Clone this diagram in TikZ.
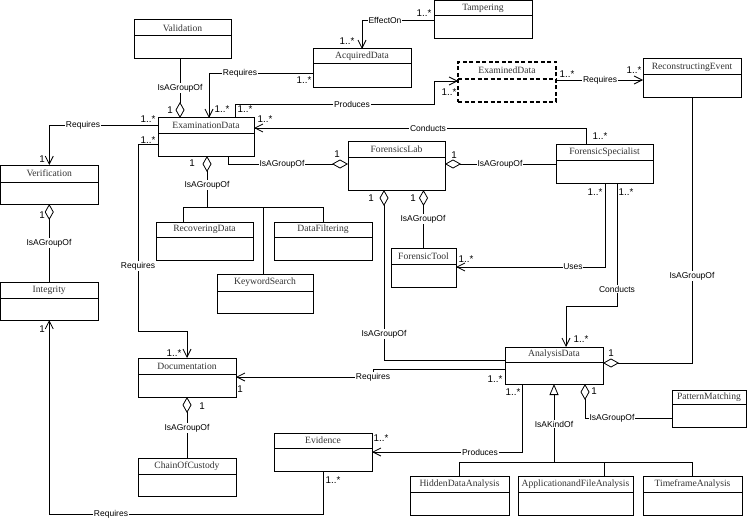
\documentclass[tikz,border=0pt]{standalone}
\usepackage{fontspec}
\setmainfont{Liberation Serif}
\setsansfont{Liberation Sans}
\usetikzlibrary{arrows.meta,calc}

\tikzset{
 clsbox/.style={draw, line width=1pt, inner sep=0pt, outer sep=0pt, fill=white},
 clsdiv/.style={line width=1pt},
 dashbox/.style={line width=2pt, dash pattern=on 4pt off 2.5pt},
 clstitle/.style={font=\fontsize{9.6}{11}\selectfont, inner sep=0pt, text=black!80},
 conn/.style={line width=0.8pt},
 assoc/.style={conn, -{Straight Barb[length=8pt,width=8pt,line width=0.8pt]}},
 agg/.style={conn, {Diamond[open,length=16pt,width=9pt,line width=0.8pt]}-},
 aggend/.style={conn, -{Diamond[open,length=16pt,width=9pt,line width=0.8pt]}},
 gen/.style={conn, {Triangle[open,length=11pt,width=9pt,line width=0.8pt]}-},
 lbl/.style={font=\sffamily\fontsize{8.5}{10}\selectfont, fill=white, inner sep=0.8pt},
 mult/.style={font=\sffamily\fontsize{9.8}{11}\selectfont, inner sep=0pt},
}

\newcommand\umlcls[8][]{%
  \node[clsbox,#1,anchor=north west,minimum width={(#5-#3)*1pt},minimum height={(#6-#4)*1pt}] (#2) at (#3,#4) {};
  \draw[clsdiv,#1] (#3,#7) -- (#5,#7);
  \node[clstitle] (#2-t) at ({(#3+#5)/2},{(#4+#7)/2}) {#8};
}

\begin{document}
\begin{tikzpicture}[x=1pt,y=-1pt]
\path[use as bounding box, fill=white] (0,0) rectangle (749,524);

% classes
\umlcls{val}{134}{20}{231}{59}{36}{Validation}
\umlcls{exam}{158}{118}{254}{156}{133.5}{ExaminationData}
\umlcls{acq}{313}{49}{411}{88}{64}{AcquiredData}
\umlcls{tamp}{434}{1}{532}{39}{16}{Tampering}
\umlcls[dashbox]{exmd}{458}{62}{556}{102}{79}{ExaminedData}
\umlcls{rec}{643}{59}{741}{98}{75}{ReconstructingEvent}
\umlcls{verif}{0.5}{165}{98}{204}{182}{Verification}
\umlcls{integ}{0.5}{282}{98}{320}{298}{Integrity}
\umlcls{lab}{348}{141}{445}{190}{157}{ForensicsLab}
\umlcls{spec}{556}{144}{653}{183}{160}{ForensicSpecialist}
\umlcls{recov}{156}{222}{253}{260}{237}{RecoveringData}
\umlcls{filt}{274}{222}{372}{260}{237}{DataFiltering}
\umlcls{kw}{217}{274}{313}{313}{291}{KeywordSearch}
\umlcls{tool}{391}{248}{456}{287}{264}{ForensicTool}
\umlcls{ana}{505}{347}{603}{384}{362}{AnalysisData}
\umlcls{doc}{138}{358}{236}{397}{374}{Documentation}
\umlcls{coc}{138}{458}{236}{496}{474}{ChainOfCustody}
\umlcls{evid}{274}{433}{372}{471}{448}{Evidence}
\umlcls{pat}{672}{390}{746}{427}{404}{PatternMatching}
\umlcls{hid}{410}{476}{509}{515}{492}{HiddenDataAnalysis}
\umlcls{app}{518}{476}{633}{515}{492}{ApplicationandFileAnalysis}
\umlcls{time}{643}{476}{742}{515}{492}{TimeframeAnalysis}

% connectors
\draw[aggend] ($(val.south west)+(46,0)$) -- ($(exam.north west)+(22,0)$);
\draw[assoc] ($(acq.north west)+(0,24)$) -| ($(exam.north west)+(51,0)$);
\draw[assoc] ($(tamp.north west)+(0,19)$) -| ($(acq.north west)+(49,0)$);
\draw[assoc] ($(exam.north west)+(77,0)$) |- ($(exmd.north west)+(-24,42)$) |- ($(exmd.north west)+(0,19)$);
\draw[assoc] ($(exmd.north east)+(0,18)$) -- ($(rec.north west)+(0,21)$);
\draw[assoc] ($(spec.north west)+(30,0)$) |- ($(exam.north east)+(0,10)$);
\draw[aggend] ($(exam.south west)+(70,0)$) |- ($(lab.north west)+(0,23)$);
\draw[aggend] ($(spec.north west)+(0,20)$) -- ($(lab.north east)+(0,23)$);
\draw[assoc] ($(exam.north west)+(0,7)$) -| (verif.north);
\draw[assoc] ($(exam.north west)+(0,26)$) -| ($(doc.north west)+(0,-27)$) -| (doc.north);
\coordinate (br1) at (207,207);
\draw[agg] ($(exam.south west)+(49,0)$) -- (br1);
\draw[conn] ($(recov.north west)+(27,0)$) |- ($(filt.north west)+(49,-15)$) -- ($(filt.north west)+(49,0)$);
\draw[conn] ($(kw.north west)+(46,0)$) -- ($(kw.north west)+(46,-67)$);
\draw[agg] (verif.south) -- (integ.north);
\draw[agg] (tool.north |- lab.south) -- (tool.north);
\draw[agg] ($(lab.south west)+(36,0)$) |- ($(ana.north west)+(0,13)$);
\draw[assoc] ($(spec.south west)+(49,0)$) |- ($(tool.north east)+(0,19)$);
\draw[assoc] ($(spec.south west)+(61,0)$) -- ($(spec.south west)+(61,123)$) -| ($(ana.north west)+(61,0)$);
\draw[aggend] ($(rec.south west)+(49,0)$) |- ($(ana.north east)+(0,16)$);
\draw[assoc] ($(ana.north west)+(0,22)$) -| ($(doc.north east)+(137,19)$) -- ($(doc.north east)+(0,19)$);
\draw[assoc] ($(ana.south west)+(17,0)$) |- ($(evid.north east)+(0,19)$);
\coordinate (br2) at (554,462);
\draw[gen] ($(ana.south west)+(49,0)$) -- (br2);
\draw[conn] (hid.north) |- ($(time.north)+(0,-14)$) -- (time.north);
\draw[conn] ($(app.north west)+(86,0)$) -- ($(app.north west)+(86,-14)$);
\draw[agg] ($(ana.south west)+(80,0)$) |- ($(pat.north west)+(0,28)$);
\draw[assoc] ($(evid.south west)+(49,0)$) -- ($(evid.south west)+(49,43)$) -| (integ.south);
\draw[agg] (doc.south) -- (coc.north);

% connector labels
\node[lbl] (l1) at (180,88) {IsAGroupOf};
\node[lbl] (l2) at (240,73) {Requires};
\node[lbl] (l3) at (385,20) {EffectOn};
\node[lbl] (l4) at (352,104) {Produces};
\node[lbl] (l5) at (600,80) {Requires};
\node[lbl] (l6) at (428,128) {Conducts};
\node[lbl] (l7) at (282,164) {IsAGroupOf};
\node[lbl] (l8) at (500,164) {IsAGroupOf};
\node[lbl] (l9) at (83,125) {Requires};
\node[lbl] (l10) at (138,266) {Requires};
\node[lbl] (l11) at (207,185) {IsAGroupOf};
\node[lbl] (l12) at (49,243) {IsAGroupOf};
\node[lbl] (l13) at (423,219) {IsAGroupOf};
\node[lbl] (l14) at (384,334) {IsAGroupOf};
\node[lbl] (l15) at (573,267) {Uses};
\node[lbl] (l16) at (617,289) {Conducts};
\node[lbl] (l17) at (692,276) {IsAGroupOf};
\node[lbl] (l18) at (373,377) {Requires};
\node[lbl] (l19) at (480,452) {Produces};
\node[lbl] (l20) at (554,424) {IsAKindOf};
\node[lbl] (l21) at (612,418) {IsAGroupOf};
\node[lbl] (l22) at (111,514) {Requires};
\node[lbl] (l23) at (187,428) {IsAGroupOf};

% multiplicities
\node[mult] (m1) at (170,110) {1};
\node[mult] (m2) at (304,80) {1..*};
\node[mult] (m3) at (222,109) {1..*};
\node[mult] (m4) at (424,13) {1..*};
\node[mult] (m5) at (347,41) {1..*};
\node[mult] (m6) at (245,109) {1..*};
\node[mult] (m7) at (449,92) {1..*};
\node[mult] (m8) at (567,74) {1..*};
\node[mult] (m9) at (634,70) {1..*};
\node[mult] (m10) at (600,136) {1..*};
\node[mult] (m11) at (265,119) {1..*};
\node[mult] (m12) at (337,154) {1};
\node[mult] (m13) at (454,155) {1};
\node[mult] (m14) at (148,119) {1..*};
\node[mult] (m15) at (42,159) {1};
\node[mult] (m16) at (148,140) {1..*};
\node[mult] (m17) at (174,353) {1..*};
\node[mult] (m18) at (192,163) {1};
\node[mult] (m19) at (42,215) {1};
\node[mult] (m20) at (413,198) {1};
\node[mult] (m21) at (371,198) {1};
\node[mult] (m22) at (595,192) {1..*};
\node[mult] (m23) at (626,192) {1..*};
\node[mult] (m24) at (466,259) {1..*};
\node[mult] (m25) at (581,339) {1..*};
\node[mult] (m26) at (611,353) {1};
\node[mult] (m27) at (495,379) {1..*};
\node[mult] (m28) at (240,389) {1};
\node[mult] (m29) at (513,392) {1..*};
\node[mult] (m30) at (381,438) {1..*};
\node[mult] (m31) at (594,391) {1};
\node[mult] (m32) at (333,480) {1..*};
\node[mult] (m33) at (42,329) {1};
\node[mult] (m34) at (202,406) {1};
\end{tikzpicture}
\end{document}
